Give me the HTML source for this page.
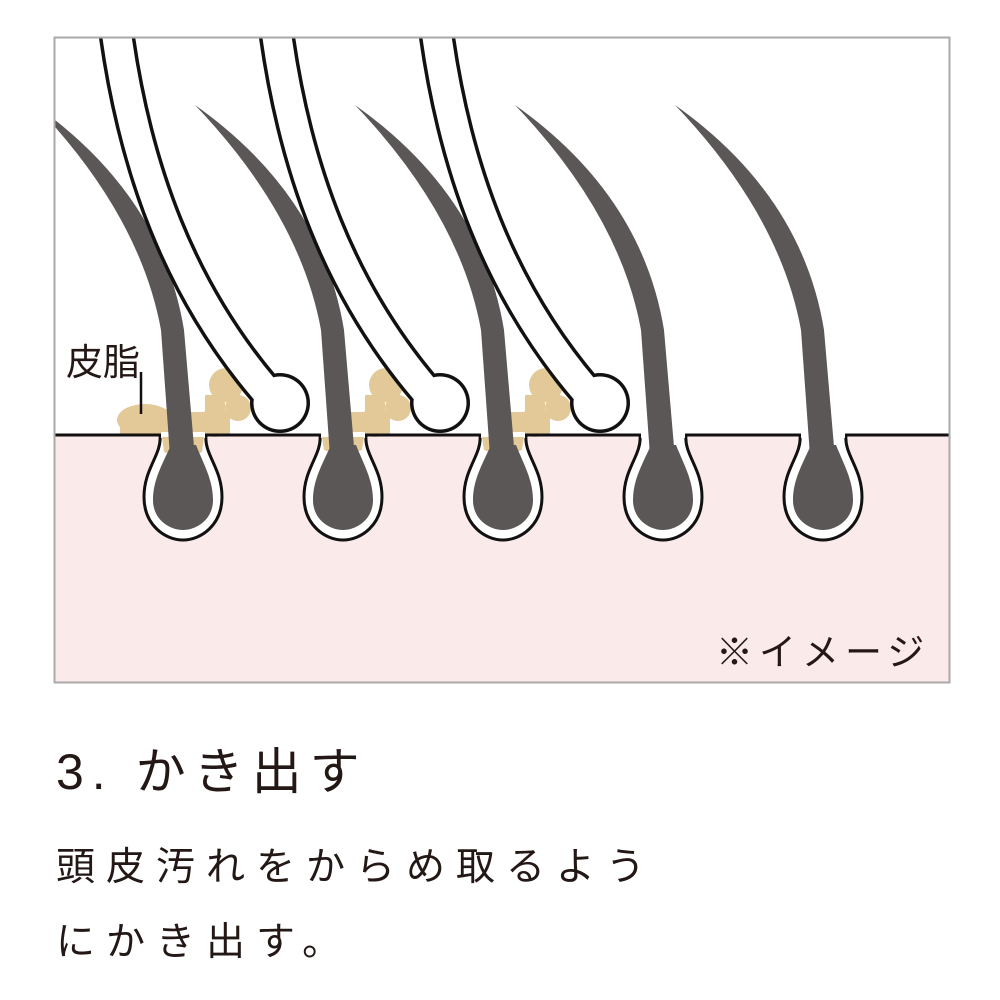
<!DOCTYPE html>
<html><head><meta charset="utf-8"><style>
body{margin:0;background:#fff;width:1000px;height:1000px;overflow:hidden;font-family:"Liberation Sans","Noto Sans CJK JP",sans-serif;color:#231815}
.t{position:absolute;white-space:nowrap}
</style></head><body>
<svg width="1000" height="1000" style="position:absolute;left:0;top:0">
<defs>
<clipPath id="c"><rect x="55" y="38" width="894" height="644"/></clipPath>
<g id="fol">
<path d="M320,435 C322,455 304,468 304,497 C304,525 325,540 343,540 C361,540 382,525 382,497 C382,468 364,455 366,435" fill="#fff" stroke="#111" stroke-width="3"/>
<rect x="321" y="432" width="44" height="6" fill="#fff"/>
</g>
<g id="hair">
<path d="M195,105 Q322,195 344,330 L356,470 L331,470 L321,330 Q300,215 195,105 Z" fill="#5a5756"/>
<path d="M331,445 C322,465 313,480 313,500 C313,520 330,530 343,530 C356,530 373,520 373,500 C373,480 364,465 356,445 Z" fill="#5a5756"/>
</g>
<g id="tooth">
<path d="M116,30 C135,170 180,290 265,390" fill="none" stroke="#111" stroke-width="36"/>
<circle cx="280" cy="403" r="30" fill="#111"/>
<path d="M116,30 C135,170 180,290 265,390" fill="none" stroke="#fff" stroke-width="29"/>
<circle cx="280" cy="403" r="26.5" fill="#fff"/>
</g>
<g id="seb" fill="#e4c998">
<circle cx="226" cy="385" r="17"/>
<circle cx="238" cy="408" r="13"/>
<circle cx="215" cy="422" r="15"/>
<circle cx="200" cy="425" r="12"/>
<rect x="190" y="412" width="40" height="23"/>
<rect x="205" y="395" width="20" height="20"/>
</g>
</defs>
<rect x="55" y="38" width="894" height="644" fill="#fff"/>
<rect x="55" y="435" width="894" height="247" fill="#fbeaea"/>
<g clip-path="url(#c)">
<g fill="#e4c998">
<ellipse cx="145" cy="420" rx="28" ry="16"/>
<rect x="120" y="420" width="50" height="15"/>
</g>
<use href="#seb"/>
<use href="#seb" transform="translate(160,0)"/>
<use href="#seb" transform="translate(320,0)"/>
<line x1="55" y1="435" x2="949" y2="435" stroke="#111" stroke-width="3"/>
<use href="#fol" transform="translate(-160,0)"/>
<use href="#fol"/>
<use href="#fol" transform="translate(160,0)"/>
<use href="#fol" transform="translate(320,0)"/>
<use href="#fol" transform="translate(480,0)"/>
<g fill="#e4c998">
<path d="M162,437 L204,437 L202,452 Q183,460 164,452 Z"/>
<path d="M322,437 L364,437 L362,450 Q343,458 324,450 Z"/>
<path d="M482,437 L524,437 L522,450 Q503,458 484,450 Z"/>
</g>
<use href="#hair" transform="translate(-160,0)"/>
<use href="#hair"/>
<use href="#hair" transform="translate(160,0)"/>
<use href="#hair" transform="translate(320,0)"/>
<use href="#hair" transform="translate(480,0)"/>
<use href="#tooth"/>
<use href="#tooth" transform="translate(160,0)"/>
<use href="#tooth" transform="translate(320,0)"/>
</g>
<line x1="141" y1="372" x2="141" y2="414" stroke="#111" stroke-width="2.5"/>
<rect x="54.5" y="37.5" width="895" height="645" fill="none" stroke="#aaa" stroke-width="2"/>
</svg>
<div class="t" style="left:66px;top:332px;font-size:37px">皮脂</div>
<div class="t" style="left:716px;top:622px;font-size:37px;letter-spacing:6px">※イメージ</div>
<div class="t" style="left:56px;top:732px;font-size:50px;letter-spacing:8px">3. かき出す</div>
<div class="t" style="left:56px;top:836px;font-size:39px;letter-spacing:11px">頭皮汚れをからめ取るよう</div>
<div class="t" style="left:56px;top:911px;font-size:39px;letter-spacing:11px">にかき出す。</div>
</body></html>
